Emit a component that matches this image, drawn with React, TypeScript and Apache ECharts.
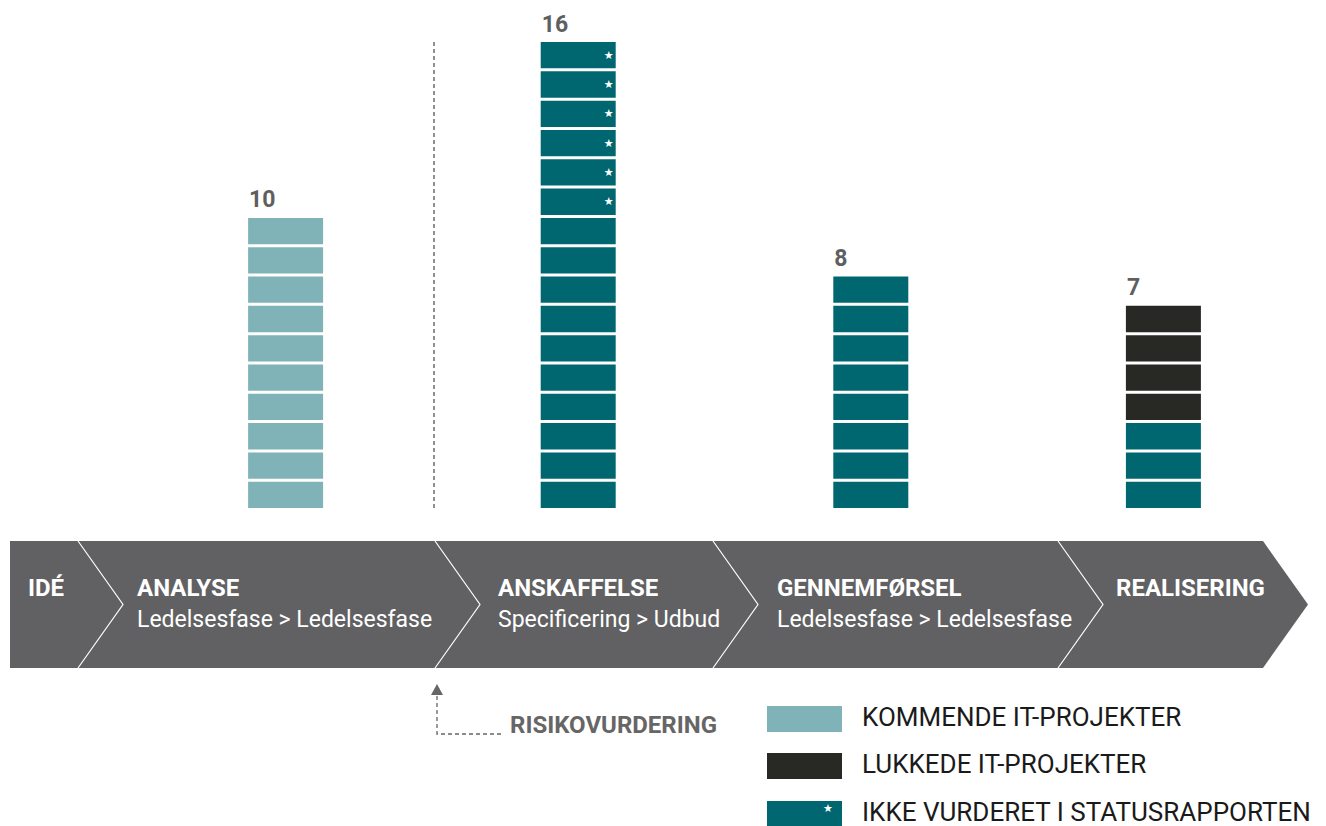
import React, { useEffect, useRef } from "react";
import * as echarts from "echarts";

const categories = ["ANALYSE", "ANSKAFFELSE", "GENNEMFØRSEL", "REALISERING"];
const kommende = [10, 0, 0, 0];
const igangvaerende = [0, 10, 8, 3];
const ikkeVurderet = [0, 6, 0, 0];
const lukkede = [0, 0, 0, 4];

const phaseTitles = ["IDÉ", "ANALYSE", "ANSKAFFELSE", "GENNEMFØRSEL", "REALISERING"];
const phaseSubtitles = ["", "Ledelsesfase > Ledelsesfase", "Specificering > Udbud", "Ledelsesfase > Ledelsesfase", ""];
const legendLabels = ["KOMMENDE IT-PROJEKTER", "LUKKEDE IT-PROJEKTER", "IKKE VURDERET I STATUSRAPPORTEN"];
const riskLabel = "RISIKOVURDERING";

const COLORS = ["#80b3b7", "#006770", "#006770", "#282824"];
const FONT = "Roboto, 'Noto Sans', sans-serif";

export default function App() {
  const ref = useRef<HTMLDivElement>(null);
  useEffect(() => {
    if (!ref.current) return;
    const chart = echarts.init(ref.current, null, { renderer: "svg" });
    const stacks = [kommende, igangvaerende, ikkeVurderet, lukkede];
    const blocks: number[][] = [];
    const totals: number[][] = [];
    categories.forEach((_, ci) => {
      let k = 0;
      stacks.forEach((arr, s) => {
        for (let j = 0; j < arr[ci]; j++) {
          blocks.push([ci, k, s]);
          k++;
        }
      });
      totals.push([ci, k]);
    });

    const BW = 75;
    const GAP = 3;

    // band geometry
    const bandTop = 541, bandBot = 668, bandLeft = 10, bandRight = 1263, tipW = 45;
    const bandMid = (bandTop + bandBot) / 2;
    const chevronX = [78, 435, 713, 1058];
    const textX = [28, 137, 498, 777, 1116];

    const graphics: any[] = [];
    graphics.push({
      type: "polygon",
      shape: {
        points: [
          [bandLeft, bandTop],
          [bandRight, bandTop],
          [bandRight + tipW, bandMid],
          [bandRight, bandBot],
          [bandLeft, bandBot],
        ],
      },
      style: { fill: "#616163" },
      silent: true,
    });
    chevronX.forEach((cx) => {
      graphics.push({
        type: "polyline",
        shape: { points: [[cx, bandTop], [cx + tipW, bandMid], [cx, bandBot]] },
        style: { stroke: "#ffffff", lineWidth: 1.2, fill: null },
        silent: true,
      });
    });
    phaseTitles.forEach((t, i) => {
      graphics.push({
        type: "text",
        x: textX[i],
        y: 588,
        style: {
          text: t,
          fill: "#ffffff",
          font: `bold 24px ${FONT}`,
          verticalAlign: "middle",
          align: "left",
        },
        silent: true,
      });
      if (phaseSubtitles[i]) {
        graphics.push({
          type: "text",
          x: textX[i],
          y: 619,
          style: {
            text: phaseSubtitles[i],
            fill: "#ffffff",
            font: `23px ${FONT}`,
            verticalAlign: "middle",
            align: "left",
          },
          silent: true,
        });
      }
    });

    // dashed separator
    graphics.push({
      type: "line",
      shape: { x1: 434, y1: 42, x2: 434, y2: 508 },
      style: { stroke: "#555555", lineWidth: 1.3, lineDash: [4, 3] },
      silent: true,
    });

    // risk arrow
    graphics.push({
      type: "polyline",
      shape: { points: [[437, 696], [437, 734], [502, 734]] },
      style: { stroke: "#666666", lineWidth: 1.3, lineDash: [4, 3], fill: null },
      silent: true,
    });
    graphics.push({
      type: "polygon",
      shape: { points: [[437, 684], [443, 695], [431, 695]] },
      style: { fill: "#666666" },
      silent: true,
    });
    graphics.push({
      type: "text",
      x: 510,
      y: 725,
      style: {
        text: riskLabel,
        fill: "#666666",
        font: `bold 24px ${FONT}`,
        verticalAlign: "middle",
        align: "left",
      },
      silent: true,
    });

    // legend
    const legendColors = [COLORS[0], COLORS[3], COLORS[2]];
    const legendY = [706, 753, 801];
    legendLabels.forEach((lab, i) => {
      graphics.push({
        type: "rect",
        shape: { x: 767, y: legendY[i], width: 75, height: 26 },
        style: { fill: legendColors[i] },
        silent: true,
      });
      if (i === 2) {
        graphics.push({
          type: "text",
          x: 828,
          y: legendY[i] + 7,
          style: {
            text: "★",
            fill: "#ffffff",
            font: `11px 'DejaVu Sans', sans-serif`,
            align: "center",
            verticalAlign: "middle",
          },
          silent: true,
        });
      }
      graphics.push({
        type: "text",
        x: 862,
        y: legendY[i] + 11,
        style: {
          text: lab,
          fill: "#1a1a1a",
          font: `26px ${FONT}`,
          lineHeight: 26,
          verticalAlign: "middle",
          align: "left",
        },
        silent: true,
      });
    });

    chart.setOption({
      animation: false,
      grid: { left: 139.3, width: 1170.4, top: 39, height: 469, containLabel: false },
      xAxis: {
        type: "category",
        data: categories,
        show: false,
      },
      yAxis: { type: "value", min: 0, max: 16, show: false },
      graphic: graphics,
      series: [
        {
          type: "custom",
          data: blocks,
          renderItem: (params: any, api: any) => {
            const ci = api.value(0);
            const k = api.value(1);
            const s = api.value(2);
            const bottom = api.coord([ci, k]);
            const top = api.coord([ci, k + 1]);
            const x0 = bottom[0] - BW / 2;
            const y0 = top[1] + GAP;
            const h = bottom[1] - y0;
            const children: any[] = [
              {
                type: "rect",
                shape: { x: x0, y: y0, width: BW, height: h },
                style: { fill: COLORS[s] },
              },
            ];
            if (s === 2) {
              children.push({
                type: "text",
                x: x0 + BW - 7,
                y: y0 + h / 2,
                style: {
                  text: "★",
                  fill: "#ffffff",
                  font: `11px 'DejaVu Sans', sans-serif`,
                  align: "center",
                  verticalAlign: "middle",
                },
              });
            }
            return { type: "group", children };
          },
        },
        {
          type: "custom",
          data: totals,
          renderItem: (params: any, api: any) => {
            const ci = api.value(0);
            const t = api.value(1);
            const p = api.coord([ci, t]);
            return {
              type: "text",
              x: p[0] - BW / 2 + 1,
              y: p[1] + GAP - 18,
              style: {
                text: String(t),
                fill: "#5f5f5f",
                font: `bold 23px ${FONT}`,
                align: "left",
                verticalAlign: "middle",
              },
            };
          },
        },
      ],
    });
    return () => chart.dispose();
  }, []);
  return (
    <div
      ref={ref}
      style={{ position: "fixed", left: 0, top: 0, width: 1326, height: 826, background: "#ffffff" }}
    />
  );
}
